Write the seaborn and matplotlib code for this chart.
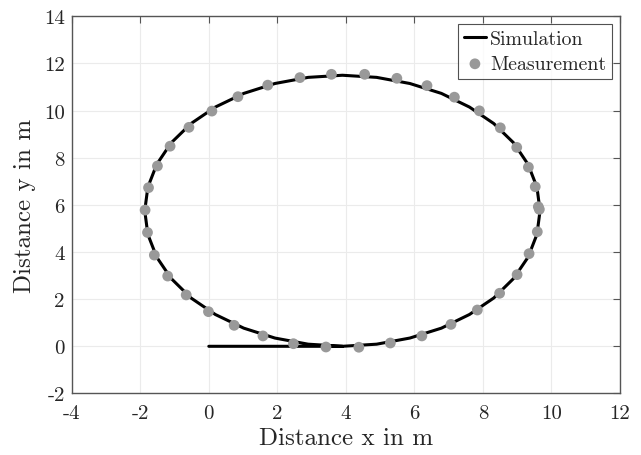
import numpy as np
import pandas as pd
import matplotlib
matplotlib.use("Agg")
import matplotlib.pyplot as plt
import seaborn as sns

# simulated trajectory (straight run-in, then the loop)
sim_x = [0.00, 3.90, 4.90, 5.87, 6.79, 7.61, 8.32, 8.90, 9.32, 9.58, 9.67,
         9.58, 9.32, 8.90, 8.32, 7.61, 6.79, 5.87, 4.90, 3.90, 2.90, 1.93,
         1.02, 0.19, -0.52, -1.10, -1.52, -1.78, -1.87, -1.78, -1.52, -1.10,
         -0.52, 0.19, 1.02, 1.93, 2.90, 3.90]
sim_y = [0.00, 0.00, 0.09, 0.35, 0.77, 1.35, 2.05, 2.88, 3.78, 4.75, 5.75,
         6.75, 7.72, 8.63, 9.45, 10.15, 10.73, 11.15, 11.41, 11.50, 11.41, 11.15,
         10.73, 10.15, 9.45, 8.63, 7.72, 6.75, 5.75, 4.75, 3.78, 2.88,
         2.05, 1.35, 0.77, 0.35, 0.09, 0.00]

# measured positions
meas_x = [3.42, 4.38, 5.30, 6.22, 7.07, 7.84, 8.49, 9.00, 9.35, 9.59, 9.62,
          9.65, 9.53, 9.33, 8.99, 8.51, 7.90, 7.17, 6.37, 5.49, 4.55, 3.58,
          2.66, 1.72, 0.85, 0.09, -0.58, -1.13, -1.50, -1.76, -1.86, -1.79,
          -1.59, -1.20, -0.66, -0.01, 0.74, 1.58, 2.47]
meas_y = [-0.03, -0.04, 0.14, 0.44, 0.93, 1.54, 2.25, 3.04, 3.93, 4.86, 5.92,
          5.81, 6.77, 7.60, 8.44, 9.27, 9.99, 10.57, 11.06, 11.37, 11.54, 11.54,
          11.40, 11.08, 10.59, 9.98, 9.29, 8.49, 7.65, 6.73, 5.78, 4.83,
          3.87, 2.98, 2.18, 1.47, 0.89, 0.44, 0.11]

x_ticks = [-4, -2, 0, 2, 4, 6, 8, 10, 12]
y_ticks = [-2, 0, 2, 4, 6, 8, 10, 12, 14]

sns.set_style("white")
plt.rcParams["font.family"] = "serif"
plt.rcParams["font.serif"] = ["cmr10", "DejaVu Serif"]
plt.rcParams["mathtext.fontset"] = "cm"
plt.rcParams["axes.unicode_minus"] = False
plt.rcParams["axes.formatter.use_mathtext"] = True

sim = pd.DataFrame({"x": sim_x, "y": sim_y})
meas = pd.DataFrame({"x": meas_x, "y": meas_y})

fig = plt.figure(figsize=(6.41, 4.56), dpi=100)
ax = fig.add_axes([0.112, 0.135, 0.855, 0.827])

sns.lineplot(data=sim, x="x", y="y", sort=False, estimator=None, color="k",
             linewidth=2.2, ax=ax, label="Simulation", zorder=2)
sns.scatterplot(data=meas, x="x", y="y", color="#999999", s=60,
                edgecolor="none", ax=ax, label="Measurement", zorder=3)

ax.set_xlim(-4, 12)
ax.set_ylim(-2, 14)
ax.set_xticks(x_ticks)
ax.set_yticks(y_ticks)
ax.set_xticklabels([str(t) for t in x_ticks])
ax.set_yticklabels([str(t) for t in y_ticks])
ax.grid(True, color="#ebebeb", linewidth=0.8)
ax.set_axisbelow(True)

for sp in ax.spines.values():
    sp.set_color("#555555")
    sp.set_linewidth(1.0)
ax.tick_params(direction="in", length=5, width=0.8, color="#555555",
               top=True, right=True, labelsize=15, pad=5)
ax.tick_params(axis="x", pad=8)

ax.set_xlabel("Distance x in m", fontsize=18, labelpad=3)
ax.set_ylabel("Distance y in m", fontsize=18, labelpad=6)

leg = ax.legend(loc="upper right", fontsize=14.3, frameon=True, fancybox=False,
                borderaxespad=0.4, handlelength=1.1, handletextpad=0.2,
                borderpad=0.3, labelspacing=0.35)
leg.get_frame().set_edgecolor("#262626")
leg.get_frame().set_linewidth(0.8)

fig.savefig("out.png", dpi=100)
